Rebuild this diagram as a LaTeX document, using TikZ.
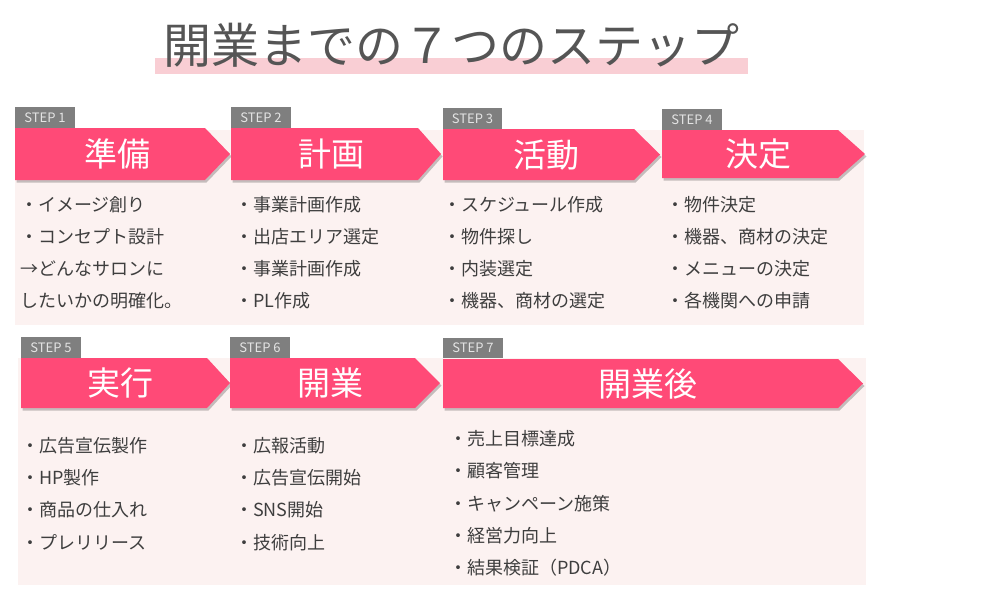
\documentclass[tikz,border=0pt]{standalone}
\usepackage{fontspec}
\setmainfont{Noto Sans CJK JP}
\definecolor{arrowpink}{HTML}{FF4A77}
\definecolor{bgpink}{HTML}{FCF2F1}
\definecolor{barpink}{HTML}{F9CED4}
\definecolor{labelgray}{HTML}{7F7F7F}
\definecolor{labeltext}{HTML}{E4E4E4}
\definecolor{bodytext}{HTML}{3E3E3E}
\definecolor{titletext}{HTML}{555555}
\newcommand\mystep[5]{%
  \fill[black, opacity=0.22] (#1+1.5,#2+2.5) -- (#4+1.5,#2+2.5) -- (#5+1.5,{(#2+#3)/2+2.5}) -- (#4+1.5,#3+2.5) -- (#1+1.5,#3+2.5) -- cycle;
  \fill[arrowpink] (#1,#2) -- (#4,#2) -- (#5,{(#2+#3)/2}) -- (#4,#3) -- (#1,#3) -- cycle;}
\begin{document}
\begin{tikzpicture}[x=1pt,y=-1pt,
  steplabel/.style={fill=labelgray, text=labeltext, inner sep=0pt, font=\fontsize{13}{13}\selectfont},
  head/.style={text=white, inner sep=0pt, font=\fontsize{33}{33}\selectfont, text height=27.4pt, text depth=2.3pt},
  item/.style={text=bodytext, inner sep=0pt, anchor=west, font=\fontsize{18}{18}\selectfont, text height=14.9pt, text depth=1.26pt}]
\useasboundingbox[fill=white] (0,0) rectangle (1000,600);
% title
\fill[barpink] (155,58) rectangle (748,74);
\node[text=titletext, inner sep=0pt, font=\fontsize{48}{48}\selectfont, text height=39.84pt, text depth=3.36pt] (title) at (451.5,45.5) {開業までの７つのステップ};
% backgrounds
\fill[bgpink] (15,130) rectangle (864,325);
\fill[bgpink] (18,358) rectangle (866,585);
% arrows
\mystep{15}{128}{180}{205}{230}
\mystep{231}{128}{180}{418}{441}
\mystep{443}{129}{180}{634}{660}
\mystep{662}{130}{178}{838}{865}
\mystep{21}{358}{408}{207}{230}
\mystep{230}{358}{408}{415}{440}
\mystep{443}{359}{408}{838}{863}
% step labels
\node[steplabel, minimum width=60pt, minimum height=21pt] (l1) at (45,117.5) {STEP 1};
\node[steplabel, minimum width=60pt, minimum height=21pt] (l2) at (261,117.5) {STEP 2};
\node[steplabel, minimum width=59pt, minimum height=21pt] (l3) at (472.5,118.5) {STEP 3};
\node[steplabel, minimum width=60pt, minimum height=21pt] (l4) at (692,119.5) {STEP 4};
\node[steplabel, minimum width=60pt, minimum height=21pt] (l5) at (51,347.5) {STEP 5};
\node[steplabel, minimum width=60pt, minimum height=21pt] (l6) at (260,347.5) {STEP 6};
\node[steplabel, minimum width=60pt, minimum height=20pt] (l7) at (473,348) {STEP 7};
% headings
\node[head] (h1) at (117.5,154) {準備};
\node[head] (h2) at (331,154) {計画};
\node[head] (h3) at (546.5,154.5) {活動};
\node[head] (h4) at (758.5,154) {決定};
\node[head] (h5) at (120.5,383) {実行};
\node[head] (h6) at (330,383) {開業};
\node[head] (h7) at (648,383.5) {開業後};
% items
\foreach \t [count=\i] in {・イメージ創り,・コンセプト設計,→どんなサロンに,したいかの明確化。}
  \node[item] (a\i) at (20,{173+32*\i}) {\t};
\foreach \t [count=\i] in {・事業計画作成,・出店エリア選定,・事業計画作成,・PL作成}
  \node[item] (b\i) at (235,{173+32*\i}) {\t};
\foreach \t [count=\i] in {・スケジュール作成,・物件探し,・内装選定,・機器、商材の選定}
  \node[item] (c\i) at (443,{173+32*\i}) {\t};
\foreach \t [count=\i] in {・物件決定,・機器、商材の決定,・メニューの決定,・各機関への申請}
  \node[item] (d\i) at (666,{173+32*\i}) {\t};
\foreach \t [count=\i] in {・広告宣伝製作,・HP製作,・商品の仕入れ,・プレリリース}
  \node[item] (e\i) at (21,{413+32.3*\i}) {\t};
\foreach \t [count=\i] in {・広報活動,・広告宣伝開始,・SNS開始,・技術向上}
  \node[item] (f\i) at (235,{413+32.3*\i}) {\t};
\foreach \t [count=\i] in {・売上目標達成,・顧客管理,・キャンペーン施策,・経営力向上,・結果検証（PDCA）}
  \node[item] (g\i) at (449,{406+32.4*\i}) {\t};
\end{tikzpicture}
\end{document}
